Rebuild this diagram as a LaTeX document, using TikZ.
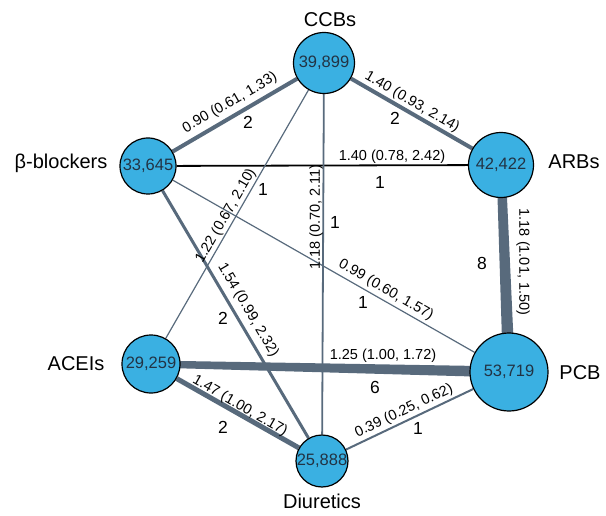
\documentclass[tikz,border=0pt]{standalone}
\usepackage{fontspec}
\setmainfont{Liberation Sans}
\usetikzlibrary{backgrounds,calc}
\definecolor{nodeblue}{HTML}{3AB0E2}
\definecolor{edgecol}{HTML}{586A7C}
\definecolor{numcol}{HTML}{223344}
\tikzset{
  drug/.style={circle, draw=black, line width=1.2pt, fill=nodeblue, inner sep=0pt},
  num/.style={font=\fontsize{16.5}{18}\selectfont, text=numcol, inner sep=0pt},
  cat/.style={font=\fontsize{20}{24}\selectfont, inner sep=0pt},
  elabel/.style={font=\fontsize{14.5}{16}\selectfont, inner sep=0pt},
  cnt/.style={font=\fontsize{17.5}{20}\selectfont, inner sep=0pt},
  edge/.style={draw=edgecol},
}
\begin{document}
\begin{tikzpicture}[x=1pt,y=-1pt]
\useasboundingbox (0,0) rectangle (606,516);
% drug class nodes
\node[drug, minimum size=61pt] (ccb) at (324,63) {};
\node[drug, minimum size=56pt] (bb) at (148,166) {};
\node[drug, minimum size=65pt] (arb) at (501,165) {};
\node[drug, minimum size=78pt] (pcb) at (509,372) {};
\node[drug, minimum size=52pt] (diu) at (322,461) {};
\node[drug, minimum size=58pt] (ace) at (151,364) {};
\node[num] (ccbn) at (ccb) {39,899};
\node[num] (bbn) at (bb) {33,645};
\node[num] (arbn) at (arb) {42,422};
\node[num] (pcbn) at (pcb) {53,719};
\node[num] (diun) at (diu) {25,888};
\node[num] (acen) at (ace) {29,259};
% class names
\node[cat] (ccbl) at (330,20) {CCBs};
\node[cat] (arbl) at (574,162) {ARBs};
\node[cat] (pcbl) at (580,373) {PCB};
\node[cat] (diul) at (322,501) {Diuretics};
\node[cat] (acel) at (76,364) {ACEIs};
\node[cat] (bbl) at (61,163) {β-blockers};
% connectors
\begin{pgfonlayer}{background}
\draw[edge, line width=4pt] (bb) -- (ccb);
\draw[edge, line width=4pt] (ccb) -- (arb);
\draw[draw=black, line width=1.8pt] (bb) -- (arb);
\draw[edge, line width=1.2pt] (ccb) -- (ace);
\draw[edge, line width=1.8pt] (ccb) -- (diu);
\draw[edge, line width=1.2pt] (bb) -- (pcb);
\draw[edge, line width=3pt] (bb) -- (diu);
\draw[edge, line width=5pt] (ace) -- (diu);
\draw[edge, line width=2pt] (diu) -- (pcb);
\fill[edgecol] ($(arb.center)!4.5pt!90:(pcb.center)$) -- ($(pcb.center)!6pt!-90:(arb.center)$)
  -- ($(pcb.center)!6pt!90:(arb.center)$) -- ($(arb.center)!4.5pt!-90:(pcb.center)$) -- cycle;
\fill[edgecol] ($(ace.center)!3.5pt!90:(pcb.center)$) -- ($(pcb.center)!5.5pt!-90:(ace.center)$)
  -- ($(pcb.center)!5.5pt!90:(ace.center)$) -- ($(ace.center)!3.5pt!-90:(pcb.center)$) -- cycle;
\end{pgfonlayer}
% edge labels
\node[elabel, rotate=30.2] (l1) at (230,103) {0.90 (0.61, 1.33)};
\node[cnt] (c1) at (248,122) {2};
\node[elabel, rotate=-29.9] (l2) at (412,102) {1.40 (0.93, 2.14)};
\node[cnt] (c2) at (395,118) {2};
\node[elabel] (l3) at (392,157) {1.40 (0.78, 2.42)};
\node[cnt] (c3) at (380,182) {1};
\node[elabel, rotate=-90] (l4) at (523,262) {1.18 (1.01, 1.50)};
\node[cnt] (c4) at (482,263) {8};
\node[elabel] (l5) at (383,356) {1.25 (1.00, 1.72)};
\node[cnt] (c5) at (375,387) {6};
\node[elabel, rotate=-29.6] (l6) at (240,406) {1.47 (1.00, 2.17)};
\node[cnt] (c6) at (223,427) {2};
\node[elabel, rotate=25.4] (l7) at (404,411) {0.39 (0.25, 0.62)};
\node[cnt] (c7) at (418,428) {1};
\node[elabel, rotate=60] (l8) at (226,216) {1.22 (0.67, 2.10)};
\node[cnt] (c8) at (263,189) {1};
\node[elabel, rotate=90] (l9) at (316,217) {1.18 (0.70, 2.11)};
\node[cnt] (c9) at (335,222) {1};
\node[elabel, rotate=-29.7] (l10) at (386,290) {0.99 (0.60, 1.57)};
\node[cnt] (c10) at (363,302) {1};
\node[elabel, rotate=-59.5] (l11) at (248,310) {1.54 (0.99, 2.32)};
\node[cnt] (c11) at (223,318) {2};
\end{tikzpicture}
\end{document}
